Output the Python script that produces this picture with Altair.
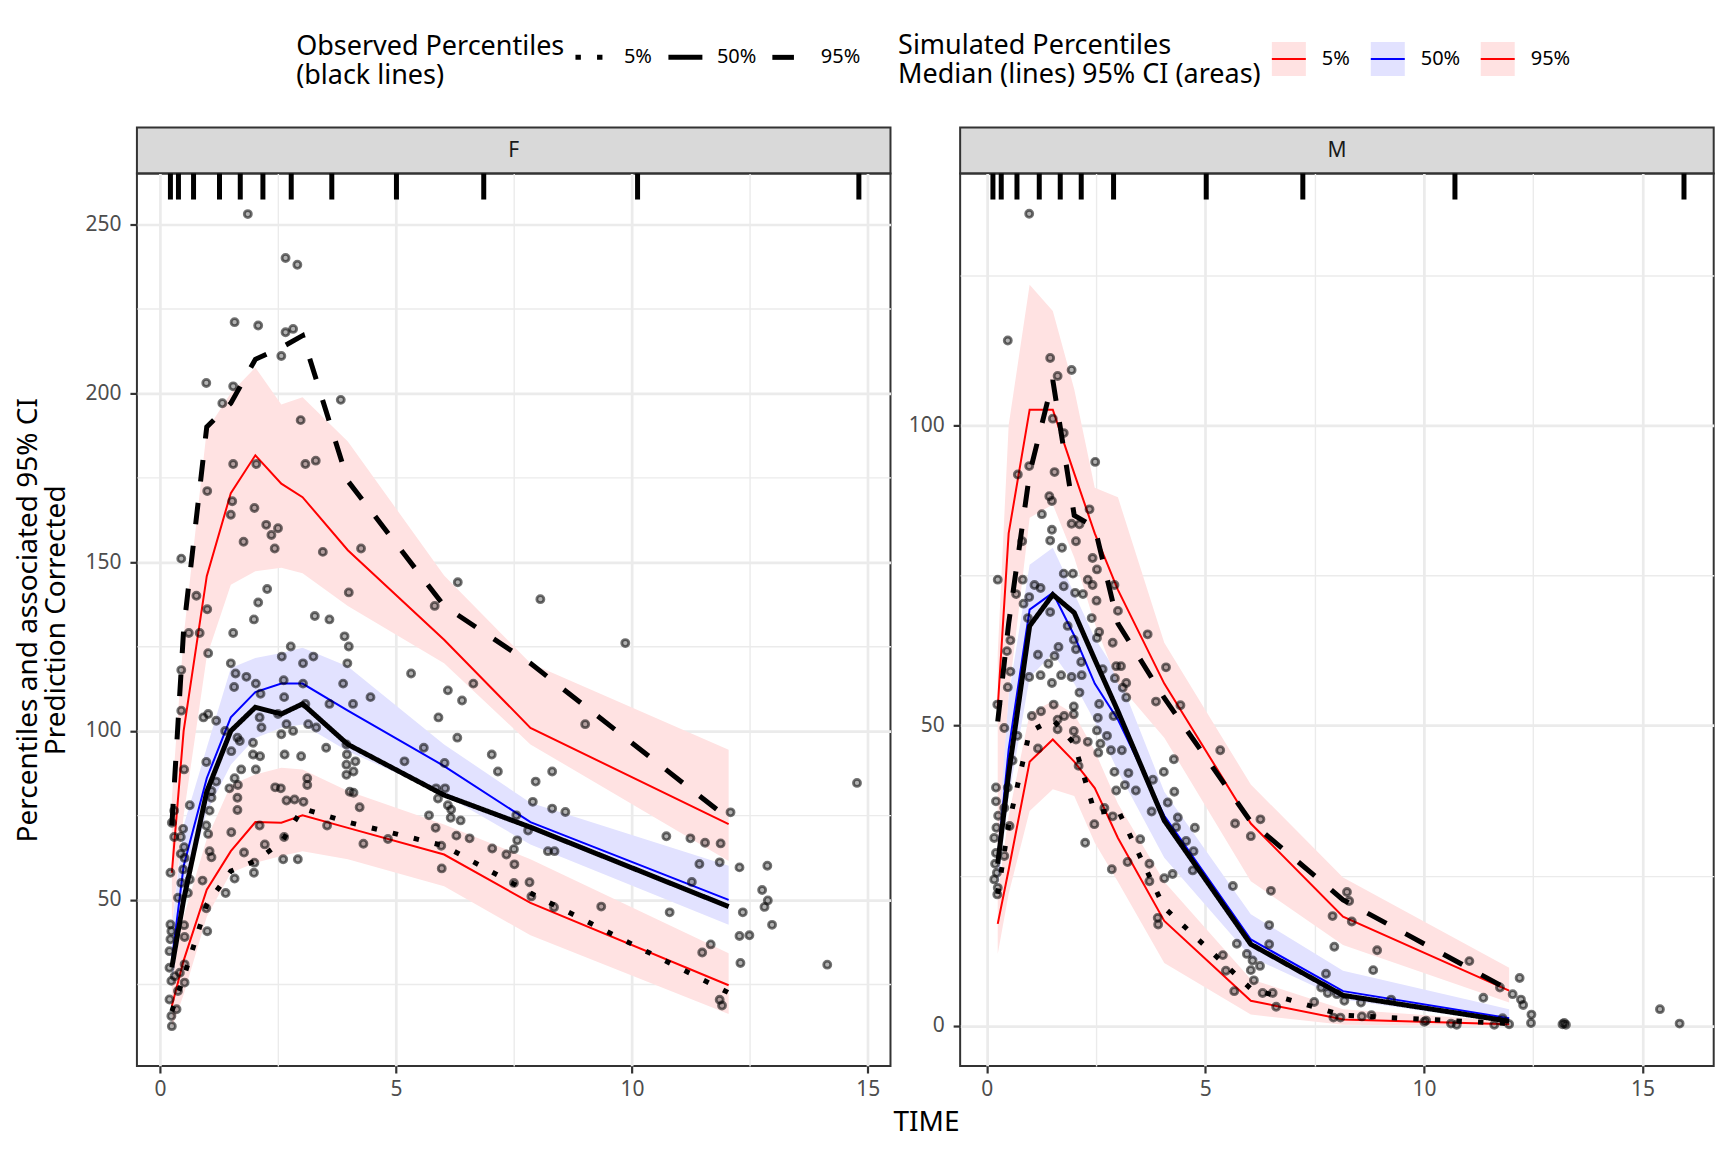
import altair as alt
import pandas as pd

FONT = "Noto Sans"
GRID = "#EBEBEB"
INK = "#333333"

PCTS = ["5%", "50%", "95%"]
PANELS = ["F", "M"]
OBS_TITLE = ["Observed Percentiles", "(black lines)"]
SIM_TITLE = ["Simulated Percentiles", "Median (lines) 95% CI (areas)"]
Y_TITLE = ["Percentiles and associated 95% CI", "Prediction Corrected"]
X_TITLE = "TIME"

SIM_COLORS = ["red", "blue", "red"]
BAND_COLORS = ["#FFE2E2", "#E2E2FF", "#FFE2E2"]
OBS_DASHES = [[5.4, 16.2], [1, 0], [21.6, 21.6]]

# ---------------- panel F ----------------
F_BIN_TIME = [0.25, 0.5, 0.99, 1.5, 2.02, 2.57, 3.02, 3.98, 6.02, 7.85, 12.05]
F_OBS_05 = [17, 27, 48.6, 58.5, 61.5, 67, 77, 73, 66, 52, 22.5]
F_OBS_50 = [30, 50, 82, 100, 107, 105, 108, 96, 81, 71.5, 48]
F_OBS_95 = [72, 130, 190, 197, 210, 213.5, 217, 174, 137, 120, 74]
F_SIM_05 = [18.6, 32, 53, 64.4, 73, 72.8, 75, 71.3, 63.4, 49.1, 24.7]
F_SIM_50 = [32, 60, 86, 104, 111.5, 114, 114, 106, 89.6, 73, 50]
F_SIM_95 = [58, 100, 145.8, 170.4, 181.6, 173.2, 169.2, 153.5, 127, 100.9, 72.4]
F_CI05_LO = [12, 22, 45, 58, 61, 63, 64.4, 62, 54, 39.5, 16.2]
F_CI05_HI = [27, 45, 68, 84, 87.1, 89.1, 88.6, 82.2, 72.3, 62, 34.2]
F_CI50_LO = [24, 50, 76, 90, 97.9, 100.9, 101.9, 94, 81.2, 66.4, 42.6]
F_CI50_HI = [42, 72, 95, 118.6, 121.6, 123.1, 124.6, 119.1, 96, 78.7, 60.1]
F_CI95_LO = [42, 75, 122, 143.3, 147.3, 148.3, 146.7, 137, 120, 96, 61.5]
F_CI95_HI = [80, 128, 189, 200, 207.6, 196.6, 198.8, 185.7, 146, 120, 94.4]
F_EDGES = [0.22, 0.39, 0.71, 1.26, 1.70, 2.18, 2.78, 3.64, 5.01, 6.86, 10.12, 14.81]

F_TIME = [
    1.86, 2.66, 2.91, 1.58, 2.08, 2.66, 2.82, 2.57, 0.98, 1.55, 1.32, 3.83, 2.98, 1.55,
    2.04, 3.08, 3.30, 1.00, 1.53, 2.00, 1.50, 2.25, 2.50, 2.36, 1.77, 2.43, 3.45, 4.26,
    0.45, 0.77, 1.00, 0.61, 0.84, 1.02, 1.55, 1.99, 2.08, 2.27, 3.28, 3.59, 4.00, 3.91,
    4.00, 3.97, 2.77, 2.58, 3.03, 3.25, 1.50, 1.60, 1.83, 2.03, 1.57, 2.62, 2.63, 2.13,
    3.03, 4.46, 3.88, 4.09, 3.59, 3.08, 2.11, 2.15, 2.50, 2.68, 2.57, 2.82, 3.14, 3.31,
    0.92, 1.02, 1.19, 1.38, 1.64, 1.69, 1.97, 1.51, 2.12, 2.64, 2.99, 3.52, 3.95, 3.96,
    4.14, 3.95, 4.10, 3.95,
    5.18, 5.59, 6.03, 5.90, 6.30, 6.10, 6.40, 6.64, 6.31, 5.82, 5.32, 8.06, 9.01, 7.03,
    7.16, 7.96, 8.31, 7.90, 8.31, 8.59, 7.80, 7.55, 7.57, 7.50, 7.51, 7.34, 7.04, 7.50,
    7.83, 7.87, 8.22, 8.36, 8.35, 9.35,
    5.85, 6.04, 5.89, 6.10, 6.17, 6.16, 6.37, 5.70, 5.84, 6.28, 6.56, 5.96, 5.97, 4.83,
    4.31, 4.23, 4.10, 4.02, 3.54, 3.12, 3.12, 3.04, 2.85, 2.68, 2.56, 2.44, 2.63, 2.61,
    2.92, 2.11, 2.22, 2.00, 1.99, 1.78, 1.58, 1.39, 0.98, 1.00, 0.90, 1.51, 1.64, 1.64,
    1.72, 1.47, 1.58, 1.65, 1.97, 2.03, 0.98, 1.19, 1.09, 1.09, 1.05, 0.63, 0.49, 0.98,
    1.02, 1.05, 1.09, 0.44, 0.51, 0.44, 0.25, 0.30, 0.51, 0.45, 0.45, 0.22, 0.49, 0.63,
    0.59, 0.38, 0.22, 0.51,
    0.30, 0.52, 0.45, 0.24, 0.22, 0.52, 0.20, 0.20, 0.52, 0.31, 0.42, 0.24, 0.52, 0.20,
    0.35, 0.24, 0.25, 0.38,
    9.86, 10.80, 10.73, 11.24, 11.55, 11.88, 11.43, 11.86, 11.27, 12.09, 12.28, 12.87,
    12.76, 12.88, 12.81, 12.35, 12.97, 12.28, 12.49, 12.30, 11.67, 11.49, 11.86, 11.91,
    14.14, 14.77,
]
F_CONC = [
    253, 240, 238, 221, 220, 218, 219, 211, 203, 202, 197, 198, 192, 179,
    179, 179, 180, 171, 168, 166, 164, 161, 160, 158, 156, 154, 153, 154,
    151, 140, 136, 129, 129, 123, 129, 133, 138, 142, 134, 133, 141, 128,
    125, 120, 125, 122, 120, 122, 120, 117, 116, 114, 113, 115, 110, 111,
    114, 110, 114, 108, 108, 108, 104, 101, 105, 102, 99, 100, 102, 101,
    104, 105, 103, 100, 98, 97, 96.5, 94, 92.5, 93, 92.5, 95, 96, 93,
    91, 90, 88, 87,
    91, 95, 90.5, 104, 98, 112, 109, 114, 144, 137, 117, 139, 102, 93,
    88, 85, 88, 79, 77, 76, 70.5, 75, 67.6, 65, 60.5, 63.4, 65.2, 55,
    55.2, 51, 64.4, 64.4, 47.8, 48,
    83, 83, 80, 78, 76.7, 74.3, 73.5, 75, 71.3, 69, 68.2, 66, 59.3, 68,
    66.6, 77.4, 81.7, 82, 72, 86, 84, 79, 79.7, 79.4, 83, 83.3, 68.6, 62,
    62, 72, 66.4, 61, 58, 64, 56.3, 52, 47.5, 40.7, 55.7, 70, 76.6, 80.2,
    88.6, 83, 86, 84, 93, 88.6, 90.8, 85, 82.2, 80.2, 76.4, 78, 71, 72,
    69.5, 64.4, 62.6, 63.6, 65.6, 68.6, 72.8, 76.4, 88.6, 106, 118, 58, 59, 56,
    52, 50.6, 42.7, 42.5,
    68.6, 62.4, 55, 40.7, 38.3, 39, 34.8, 29.9, 30.9, 27.4, 28.4, 26, 25.5, 20.5,
    17.6, 15.6, 12.6, 23,
    126, 46.3, 68.8, 68.2, 66.9, 66.7, 60.6, 61.1, 55.3, 75.9, 59.6, 60.1,
    52.9, 49.8, 47.9, 46.3, 42.6, 39.3, 39.5, 31.3, 36.8, 34.4, 20.4, 18.7,
    30.8, 84.6,
]

# ---------------- panel M ----------------
M_BIN_TIME = [0.25, 0.5, 0.98, 1.51, 2.0, 2.47, 3.0, 4.06, 6.04, 8.15, 11.95]
M_OBS_05 = [22, 33.5, 49, 51, 47, 35.5, 36, 19.7, 6.2, 1.8, 0.4]
M_OBS_50 = [27, 42, 66.6, 71.8, 68.8, 61, 52.4, 34.2, 13.6, 5.1, 0.8]
M_OBS_95 = [50.7, 67, 92, 107.5, 85, 83, 67, 54.6, 34, 21, 6]
M_SIM_05 = [17, 26, 44, 47.7, 44, 39.6, 31.3, 17.5, 4.2, 1.1, 0.3]
M_SIM_50 = [28, 46, 69.3, 72.1, 65, 57, 51, 35, 14.4, 5.8, 1.3]
M_SIM_95 = [53, 82, 102.6, 102.6, 92, 82, 72.6, 57, 33.7, 18.2, 5.9]
M_CI05_LO = [12, 22, 35.8, 39.4, 38.3, 30.5, 24, 10.5, 1.9, 0.2, 0]
M_CI05_HI = [22, 35, 52, 54.1, 51.9, 45.8, 37, 24, 7.8, 2.8, 0.8]
M_CI50_LO = [23, 38, 58, 62, 57, 50.7, 42.4, 28, 11.5, 4.4, 0.5]
M_CI50_HI = [33, 55, 76.8, 79.6, 72, 64.6, 58.5, 39, 18.6, 9.2, 2.8]
M_CI95_LO = [30, 55, 84.6, 86.8, 78, 67, 57, 48, 24.1, 13.5, 3.9]
M_CI95_HI = [62, 100, 123.4, 119, 106, 89.6, 88, 63.8, 40.2, 24.7, 9.7]
M_EDGES = [0.14, 0.33, 0.69, 1.20, 1.68, 2.16, 2.90, 5.02, 7.23, 10.71, 15.95]

M_TIME = [
    0.97, 0.48, 1.45, 1.62, 1.94, 1.51, 1.76, 2.48, 0.97, 0.71, 1.55, 1.43, 1.49, 1.26,
    2.35, 1.94, 2.12, 1.49, 0.81, 1.45, 2.04, 1.72, 2.42, 2.52, 0.25, 0.82, 1.76, 1.97,
    2.31, 2.42, 2.92, 1.09, 1.23, 1.76, 0.67, 0.97, 2.02, 2.20, 0.84, 2.51, 3.00, 2.40,
    1.45, 2.57, 3.68,
    0.94, 1.85, 0.54, 1.99, 2.52, 2.88, 0.46, 1.64, 2.04, 1.17, 1.55, 1.41, 2.16, 0.54,
    0.97, 1.23, 1.70, 1.94, 2.17, 2.65, 2.96, 3.07, 1.49, 0.48, 2.93, 3.19, 3.11, 3.19,
    3.87, 2.12, 2.57, 2.90, 2.54, 4.10, 4.43, 1.53, 1.99, 1.99, 1.24, 1.03, 1.62, 1.77,
    0.24, 0.40, 0.70, 1.62, 1.99, 2.52, 2.75, 2.04, 2.31, 2.60, 2.84, 2.55, 3.09, 1.17,
    4.28, 2.10, 2.92, 3.24, 4.05, 0.59, 5.34, 2.96, 3.16, 3.41, 4.29, 3.80, 4.14, 2.69,
    3.77, 0.21, 0.21, 0.48, 0.40,
    0.52, 0.17, 0.21, 0.40, 0.17, 0.25, 0.24, 2.88, 2.46, 2.25, 4.37, 4.33, 4.76, 4.56,
    4.73, 4.71, 3.51, 3.22, 3.72, 2.86, 3.72, 4.06, 4.25, 3.91, 3.92, 5.63, 5.68, 6.04,
    6.26, 6.50, 6.46, 5.72, 5.95, 6.08, 6.25, 6.04, 6.11, 5.40, 5.47, 5.66, 6.31, 6.54,
    6.62, 6.46, 7.76, 7.49, 7.91, 7.95, 7.80, 7.93,
    8.24, 8.29, 8.35, 8.93, 8.84, 8.01, 8.18, 8.56, 9.25, 8.09, 8.58, 8.80, 10.01, 10.05,
    10.62, 10.75, 11.04, 11.36, 11.74, 12.19, 12.03, 12.22, 12.27, 12.46, 12.45, 11.80,
    11.61, 11.95, 13.17, 13.21, 13.25, 15.40, 15.85, 7.65, 0.22, 0.26, 0.19, 0.23,
]
M_CONC = [
    135.2, 114.1, 111.2, 108.2, 109.2, 101.1, 98.7, 93.9, 93.2, 91.8, 92.2, 88.2, 87.4, 85.2,
    86, 83.6, 83.5, 82.6, 80.7, 80.8, 80.7, 79.6, 77.9, 76, 74.3, 74.3, 75.3, 75.3,
    74.3, 73.4, 73.4, 73.4, 72.9, 73.2, 71.9, 71.4, 72.1, 71.9, 70.3, 70.8, 69.1, 67.9,
    68.9, 65.6, 65.2,
    67.9, 66.6, 64.2, 64.3, 64.6, 63.8, 62.4, 63.1, 62.7, 61.8, 61.6, 60.3, 60.6, 59,
    58.1, 58.4, 58.4, 58.1, 58.4, 59.4, 59.9, 59.9, 57.1, 56.4, 57.9, 57.1, 56.3, 54.7,
    54, 55.5, 53.6, 51.6, 51.3, 59.7, 53.4, 53.5, 53.2, 51.9, 52.4, 51.6, 51, 51.6,
    53.5, 49.6, 48.3, 49.4, 49.1, 49.2, 48.3, 47.7, 47.3, 47, 45.9, 45.5, 45.9, 46.2,
    44.4, 43.3, 42.3, 42.1, 42.3, 44.2, 45.9, 39.2, 40.1, 39.2, 39, 41, 37.2, 36.3,
    35.7, 39.7, 37.4, 39.7, 36.3,
    33.3, 31.3, 28.8, 28.3, 24.4, 23, 21.9, 34.9, 33.6, 30.5, 34.7, 33.1, 33, 30.8,
    29.1, 25.9, 31.1, 27.3, 27, 26.1, 24.1, 24.6, 25.3, 18, 16.9, 23.3, 33.7, 31.6,
    34.4, 22.5, 16.8, 13.7, 12, 10.9, 10, 9.3, 7.6, 11.8, 9.2, 5.8, 5.5, 5.5,
    3.2, 13.6, 8.7, 4.0, 18.3, 13.2, 5.5, 1.4,
    22.3, 20.8, 17.4, 12.6, 9.3, 5.3, 4.2, 3.9, 4.4, 1.4, 1.6, 1.8, 0.7, 0.9,
    0.4, 0.2, 10.8, 4.7, 6.4, 8.0, 5.3, 4.4, 3.5, 1.9, 0.5, 1.3,
    0.2, 0.3, 0.3, 0.5, 0.2, 2.8, 0.4, 6.4, 33, 35, 27, 25.5,
]

PANEL_W, PANEL_H, STRIP_H = 754, 893, 46
KEY = 34  # legend key side, px

# key for the simulated series: a filled square whose outline is dashed away,
# so only its first segment (the middle line) gets stroked
BAND_KEY_PATH = "M-1,0H1V1H-1V-1H1V0"
# key for the observed series: a horizontal line, with two empty moves so the key
# keeps the same square footprint as the simulated one
OBS_KEY_PATH = "M-1,0H1M0,-1M0,1"


def long_frame(bins, series, key):
    parts = [pd.DataFrame({"time": bins, "value": vals, key: lab}) for lab, vals in zip(PCTS, series)]
    return pd.concat(parts, ignore_index=True)


def band_frame(bins, bands):
    parts = [pd.DataFrame({"time": bins, "lo": lo, "hi": hi, "band": lab}) for lab, (lo, hi) in zip(PCTS, bands)]
    return pd.concat(parts, ignore_index=True)


def legend(title, x, y, **kw):
    opts = dict(
        title=title, orient="none", legendX=x, legendY=y, direction="horizontal", padding=0,
        titleOrient="left", titleAnchor="middle", titleBaseline="middle", titleAlign="left",
        titleFontSize=27, titleFontWeight="normal", titleColor="black", titleLineHeight=29,
        titlePadding=16, titleLimit=1000, labelFontSize=20, labelColor="black", labelOffset=15,
        columnPadding=16, symbolSize=KEY * KEY,
    )
    opts.update(kw)
    return alt.Legend(**opts)


OBS_LEGEND = legend(OBS_TITLE, 159.3, -90, symbolType=OBS_KEY_PATH, symbolStrokeWidth=5,
                    symbolStrokeColor="black", labelOffset=12, columnPadding=5, titlePadding=8)
# shared by the ribbons (fill) and the simulated lines (stroke) so the two merge into one legend
SIM_LEGEND = legend(SIM_TITLE, 761.6, -86.7, symbolType=BAND_KEY_PATH, symbolStrokeWidth=2,
                    symbolDash=[KEY, 20 * KEY], titlePadding=10)


def major_axis(values, orient, title=None, pad=6):
    return alt.Axis(values=values, orient=orient, title=title, grid=True, gridColor=GRID, gridWidth=2.7,
                    domain=False, tickColor=INK, tickWidth=2.2, tickSize=7, labelFontSize=21,
                    labelColor="#4D4D4D", labelPadding=pad, titleFontSize=28, titleFontWeight="normal",
                    titleColor="black", titleLineHeight=28.5, titlePadding=14)


def minor_axis(values, orient):
    return alt.Axis(values=values, orient=orient, title=None, grid=True, gridColor=GRID, gridWidth=1.4,
                    domain=False, ticks=False, labels=False)


def strip(label):
    return alt.Chart(pd.DataFrame({"panel": [label]})).mark_text(
        font=FONT, fontSize=21, color="#1A1A1A"
    ).encode(
        x=alt.value(PANEL_W / 2), y=alt.value(STRIP_H / 2), text="panel:N"
    ).properties(width=PANEL_W, height=STRIP_H,
                 view=alt.ViewBackground(fill="#D9D9D9", stroke=INK, strokeWidth=2))


def panel(bins, obs, sim, bands, times, concs, edges, xdom, ydom, yvals, yminor, ytitle):
    xs = alt.Scale(domain=xdom, nice=False, zero=False)
    ys = alt.Scale(domain=ydom, nice=False, zero=False)

    areas = alt.Chart(band_frame(bins, bands)).mark_area().encode(
        x=alt.X("time:Q", scale=xs, axis=minor_axis([2.5, 7.5, 12.5], "top")),
        y=alt.Y("lo:Q", scale=ys, axis=minor_axis(yminor, "right")),
        y2="hi:Q",
        fill=alt.Fill("band:N", scale=alt.Scale(domain=PCTS, range=BAND_COLORS), legend=SIM_LEGEND),
    )
    sim_lines = alt.Chart(long_frame(bins, sim, "sim")).mark_line(strokeWidth=2).encode(
        x=alt.X("time:Q", scale=xs, axis=major_axis([0, 5, 10, 15], "bottom")),
        y=alt.Y("value:Q", scale=ys, axis=major_axis(yvals, "left", ytitle, pad=9)),
        stroke=alt.Stroke("sim:N", scale=alt.Scale(domain=PCTS, range=SIM_COLORS), legend=SIM_LEGEND),
    )
    points = alt.Chart(pd.DataFrame({"time": times, "dv": concs})).mark_circle(
        size=50, color="black", fillOpacity=0.3, stroke="black", strokeOpacity=0.55, strokeWidth=2.8
    ).encode(
        x=alt.X("time:Q", scale=xs, axis=None),
        y=alt.Y("dv:Q", scale=ys, axis=None),
    )
    obs_lines = alt.Chart(long_frame(bins, obs, "obs")).mark_line(color="black", strokeWidth=5).encode(
        x=alt.X("time:Q", scale=xs, axis=None),
        y=alt.Y("value:Q", scale=ys, axis=None),
        strokeDash=alt.StrokeDash("obs:N", scale=alt.Scale(range=OBS_DASHES), legend=OBS_LEGEND),
    )
    rug = alt.Chart(pd.DataFrame({"edge": edges})).mark_rule(color="black", strokeWidth=5).encode(
        x=alt.X("edge:Q", scale=xs, axis=None),
        y=alt.value(0),
        y2=alt.value(26),
    )
    return alt.layer(areas, sim_lines, points, obs_lines, rug).resolve_axis(
        x="independent", y="independent"
    ).properties(width=PANEL_W, height=PANEL_H)


panel_f = panel(
    F_BIN_TIME, (F_OBS_05, F_OBS_50, F_OBS_95), (F_SIM_05, F_SIM_50, F_SIM_95),
    ((F_CI05_LO, F_CI05_HI), (F_CI50_LO, F_CI50_HI), (F_CI95_LO, F_CI95_HI)),
    F_TIME, F_CONC, F_EDGES, [-0.49, 15.48], [0.8, 265.0],
    [50, 100, 150, 200, 250], [25, 75, 125, 175, 225], Y_TITLE,
)
panel_m = panel(
    M_BIN_TIME, (M_OBS_05, M_OBS_50, M_OBS_95), (M_SIM_05, M_SIM_50, M_SIM_95),
    ((M_CI05_LO, M_CI05_HI), (M_CI50_LO, M_CI50_HI), (M_CI95_LO, M_CI95_HI)),
    M_TIME, M_CONC, M_EDGES, [-0.61, 16.63], [-6.66, 141.9],
    [0, 50, 100], [25, 75, 125], None,
)

chart = alt.concat(
    strip(PANELS[0]), strip(PANELS[1]), panel_f, panel_m,
    columns=2, spacing={"row": 0, "column": 69.7}, bounds="flush",
).properties(
    title=alt.TitleParams(X_TITLE, orient="bottom", anchor="middle", frame="group", fontSize=28,
                          fontWeight="normal", color="black", font=FONT, offset=8, dx=790),
    padding={"left": 5, "top": 29.3, "right": 5, "bottom": 10},
    background="white",
).configure(font=FONT).configure_view(stroke=INK, strokeWidth=2)

chart.save("out.html", embed_options={"renderer": "svg", "actions": False})
